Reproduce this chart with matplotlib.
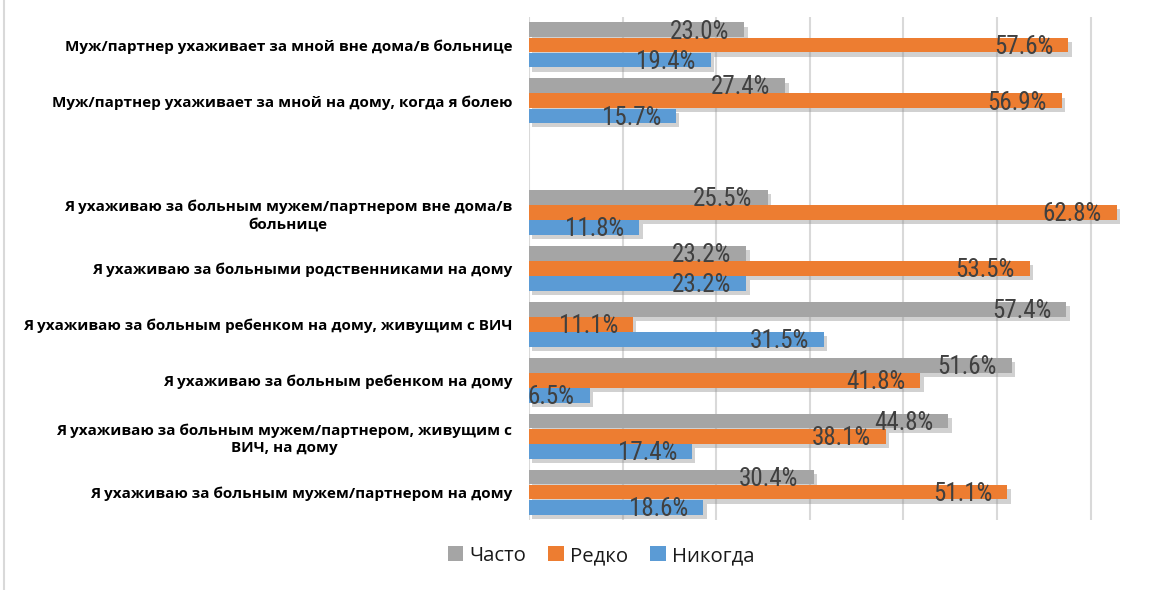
import matplotlib
matplotlib.use("Agg")
import matplotlib.pyplot as plt
import matplotlib.patheffects as pe
import numpy as np

categories = [
    "Я ухаживаю за больным мужем/партнером на дому",
    "Я ухаживаю за больным мужем/партнером, живущим с\nВИЧ, на дому",
    "Я ухаживаю за больным ребенком на дому",
    "Я ухаживаю за больным ребенком на дому, живущим с ВИЧ",
    "Я ухаживаю за больными родственниками на дому",
    "Я ухаживаю за больным мужем/партнером вне дома/в\nбольнице",
    "",
    "Муж/партнер ухаживает за мной на дому, когда я болею",
    "Муж/партнер ухаживает за мной вне дома/в больнице",
]
chasto = [30.4, 44.8, 51.6, 57.4, 23.2, 25.5, None, 27.4, 23.0]
redko = [51.1, 38.1, 41.8, 11.1, 53.5, 62.8, None, 56.9, 57.6]
nikogda = [18.6, 17.4, 6.5, 31.5, 23.2, 11.8, None, 15.7, 19.4]
series_names = ["Часто", "Редко", "Никогда"]
colors = ["#A5A5A5", "#ED7D31", "#5B9BD5"]

W, H = 1174, 590
fig = plt.figure(figsize=(W / 100, H / 100), dpi=100)
x0 = 529 / W
ax = fig.add_axes([x0, (H - 520) / H, 1 - x0, (520 - 17) / H])

n = len(categories)
y = np.arange(n)
h = 0.27
offsets = [h, 0, -h]
shadow = [pe.SimplePatchShadow(offset=(2.5, -3), shadow_rgbFace="#8c8c8c", alpha=0.4), pe.Normal()]

label_family = ["Roboto Condensed", "Open Sans Condensed", "DejaVu Sans"]
for vals, off, col, name in zip([chasto, redko, nikogda], offsets, colors, series_names):
    ys = [yy + off for yy, v in zip(y, vals) if v is not None]
    vs = [v for v in vals if v is not None]
    bars = ax.barh(ys, vs, height=h * 0.98, color=col, label=name, zorder=3)
    for b in bars:
        b.set_path_effects(shadow)
    for yy, v in zip(ys, vs):
        ax.text(v - 1.6, yy - 0.03, f"{v:.1f}%", ha="right", va="center",
                fontsize=18, color="#404040", fontfamily=label_family,
                fontstretch="condensed", zorder=4)

ax.set_xlim(0, (W - 529) / 93.6 * 10)
ax.set_ylim(-0.5, n - 0.5)
ax.set_xticks(np.arange(0, 70, 10))
ax.tick_params(axis="x", length=0, labelbottom=False)
ax.tick_params(axis="y", length=0, pad=12)
ax.set_yticks(y)
ax.set_yticklabels(categories, fontsize=11, fontweight="bold", fontfamily="Open Sans",
                   multialignment="center", color="black", linespacing=1.25)
ax.grid(axis="x", color="#D9D9D9", linewidth=1.5, zorder=0)
for s in ax.spines.values():
    s.set_visible(False)

handles, labels = ax.get_legend_handles_labels()
leg = fig.legend(handles, labels, loc="center", bbox_to_anchor=(601 / W, 1 - 556 / H), ncol=3,
                 frameon=False, handlelength=0.75, handleheight=0.75,
                 handletextpad=0.3, columnspacing=1.1, prop={"family": "Open Sans", "size": 14.7})
for t in leg.get_texts():
    t.set_color("#1a1a1a")
for p in leg.get_patches():
    p.set_path_effects([])

fig.add_artist(plt.Line2D([4 / W, 4 / W], [0, 1], transform=fig.transFigure, color="#D9D9D9", linewidth=1.5))

fig.savefig("out.png", dpi=100)
